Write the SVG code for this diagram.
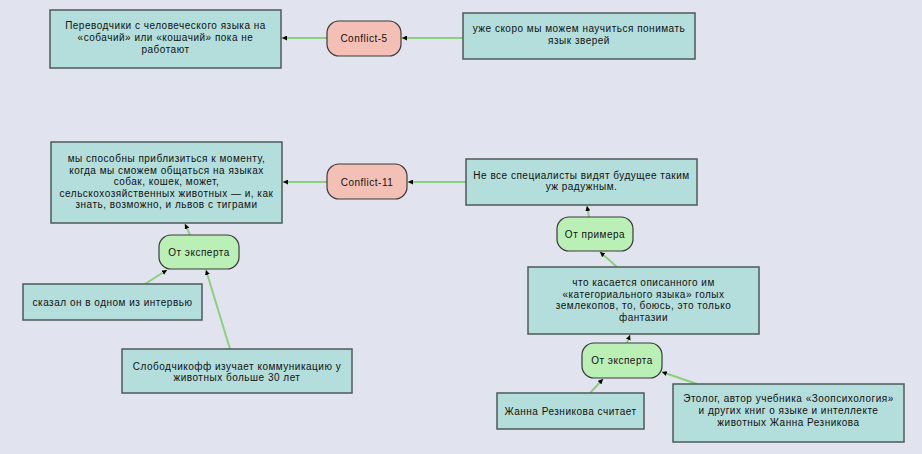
<svg xmlns="http://www.w3.org/2000/svg" width="922" height="454" viewBox="0 0 922 454">
<style>
text{font-family:"Liberation Sans",Arial,sans-serif;font-size:10px;letter-spacing:0.5px;fill:#111;text-anchor:middle}
.box{fill:#b3dedb;stroke:#4d5a5a;stroke-width:1.5}
.conf{fill:#f4c0b6;stroke:#3a3a3a;stroke-width:1.2}
.grn{fill:#baf0b6;stroke:#3a3a3a;stroke-width:1.2}
.c{stroke:#8ccf7c;stroke-width:2;fill:none;marker-end:url(#ah)}
</style>
<defs>
<marker id="ah" viewBox="0 0 10 10" refX="10" refY="5" markerWidth="5" markerHeight="5" orient="auto" markerUnits="userSpaceOnUse"><path d="M0,0L10,5L0,10z" fill="#000"/></marker>
</defs>
<rect width="922" height="454" fill="#e1e4ef"/>
<g id="connectors">
<line class="c" x1="463" y1="38" x2="402" y2="38"/>
<line class="c" x1="327" y1="38" x2="282" y2="38"/>
<line class="c" x1="466" y1="182" x2="408" y2="182"/>
<line class="c" x1="327" y1="182" x2="283" y2="182"/>
<line class="c" x1="190" y1="235" x2="185" y2="224"/>
<line class="c" x1="145" y1="284" x2="167" y2="270"/>
<line class="c" x1="230" y1="349" x2="206" y2="270"/>
<line class="c" x1="589" y1="217" x2="587" y2="206"/>
<line class="c" x1="617" y1="267" x2="600" y2="252"/>
<line class="c" x1="627" y1="343" x2="630" y2="335"/>
<line class="c" x1="590" y1="393" x2="603" y2="379"/>
<line class="c" x1="697" y1="384" x2="662" y2="372"/>
</g>
<g id="n1"><rect class="box" x="50" y="10" width="231" height="58"/>
<text x="165.5" y="28.5">Переводчики с человеческого языка на</text>
<text x="165.5" y="40.5">«собачий» или «кошачий» пока не</text>
<text x="165.5" y="52.5">работают</text></g>
<g id="conflict5"><rect class="conf" x="327" y="21" width="74" height="35" rx="12"/>
<text x="364" y="42">Conflict-5</text></g>
<g id="n2"><rect class="box" x="463" y="13" width="232" height="46"/>
<text x="579" y="32">уже скоро мы можем научиться понимать</text>
<text x="579" y="44">язык зверей</text></g>
<g id="n3"><rect class="box" x="51" y="142" width="231" height="81"/>
<text x="166.5" y="162">мы способны приблизиться к моменту,</text>
<text x="166.5" y="173.5">когда мы сможем общаться на языках</text>
<text x="166.5" y="185">собак, кошек, может,</text>
<text x="166.5" y="196.5">сельскохозяйственных животных — и, как</text>
<text x="166.5" y="208">знать, возможно, и львов с тиграми</text></g>
<g id="conflict11"><rect class="conf" x="327" y="164" width="80" height="35" rx="12"/>
<text x="367" y="185.5">Conflict-11</text></g>
<g id="n4"><rect class="box" x="466" y="159" width="231" height="46"/>
<text x="581.5" y="178.5">Не все специалисты видят будущее таким</text>
<text x="581.5" y="190">уж радужным.</text></g>
<g id="example"><rect class="grn" x="557" y="217" width="76" height="34" rx="12"/>
<text x="595" y="238">От примера</text></g>
<g id="expert1"><rect class="grn" x="159" y="235" width="80" height="34" rx="12"/>
<text x="199" y="256">От эксперта</text></g>
<g id="n5"><rect class="box" x="23" y="284" width="179" height="36"/>
<text x="112.5" y="306">сказал он в одном из интервью</text></g>
<g id="n6"><rect class="box" x="122" y="349" width="230" height="44"/>
<text x="237" y="369.5">Слободчикофф изучает коммуникацию у</text>
<text x="237" y="381">животных больше 30 лет</text></g>
<g id="n7"><rect class="box" x="528" y="267" width="231" height="67"/>
<text x="643.5" y="286">что касается описанного им</text>
<text x="643.5" y="297.5">«категориального языка» голых</text>
<text x="643.5" y="309">землекопов, то, боюсь, это только</text>
<text x="643.5" y="320.5">фантазии</text></g>
<g id="expert2"><rect class="grn" x="582" y="343" width="80" height="35" rx="12"/>
<text x="622" y="364">От эксперта</text></g>
<g id="n8"><rect class="box" x="497" y="393" width="147" height="36"/>
<text x="570.5" y="415">Жанна Резникова считает</text></g>
<g id="n9"><rect class="box" x="673" y="384" width="231" height="58"/>
<text x="788.5" y="402">Этолог, автор учебника «Зоопсихология»</text>
<text x="788.5" y="414">и других книг о языке и интеллекте</text>
<text x="788.5" y="426">животных Жанна Резникова</text></g>
</svg>
